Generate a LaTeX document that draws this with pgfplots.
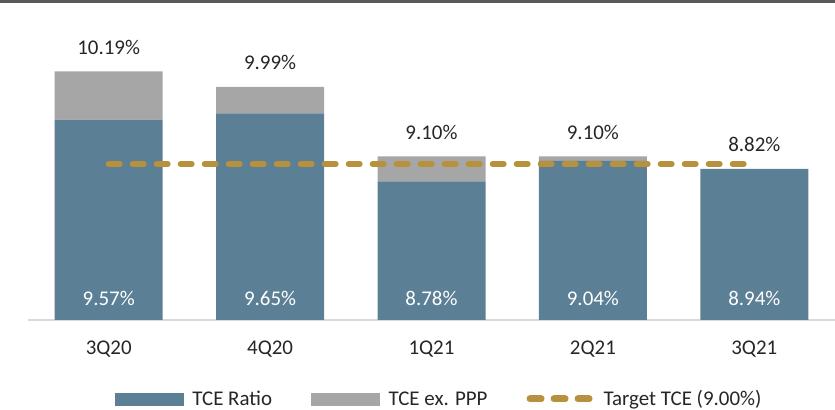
\documentclass[border=0pt]{standalone}
\usepackage{fontspec}
\setmainfont{Carlito}
\usepackage{pgfplots}
\pgfplotsset{compat=1.18}

\definecolor{tceblue}{HTML}{5B7F95}
\definecolor{tcegray}{HTML}{A6A6A6}
\definecolor{tcegold}{HTML}{B8913F}
\definecolor{txt}{HTML}{262626}
\definecolor{baseln}{HTML}{D9D9D9}
\definecolor{topln}{HTML}{595959}

\tikzset{target/.style={tcegold, line width=6bp, line cap=round, dash pattern=on 11bp off 13bp}}

\pgfplotsset{
  frame/.style={
    scale only axis, width=807bp, height=318bp,
    at={(28bp,90bp)}, anchor=south west,
    xmin=-0.5, xmax=4.5, ymin=7.0, ymax=11.08,
    font=\fontsize{21}{25}\selectfont,
  },
}

\begin{document}
\begin{tikzpicture}
\useasboundingbox (0,0) rectangle (835bp,410bp);

% bars
\begin{axis}[frame,
    ybar stacked, bar width=108bp,
    axis x line*=bottom, hide y axis,
    x axis line style={draw=baseln, line width=2bp, -},
    xtick={0,...,4}, xticklabels={3Q20,4Q20,1Q21,2Q21,3Q21},
    major tick length=0pt,
    xticklabel style={anchor=base, yshift=-35bp, text=txt},
  ]
  \addplot[fill=tceblue, draw=none]
    coordinates {(0,9.57) (1,9.65) (2,8.78) (3,9.04) (4,8.94)};
  \addplot[fill=tcegray, draw=none]
    coordinates {(0,0.62) (1,0.34) (2,0.32) (3,0.06) (4,0)};
\end{axis}

% target line, labels, legend
\begin{axis}[frame, hide axis, clip=false,
    legend style={at={(0.1078,-0.2484)}, anchor=west, draw=none, fill=none,
      inner sep=0pt, outer sep=0pt, nodes={inner sep=0pt, text=txt},
      legend columns=3,
      /tikz/every odd column/.append style={column sep=9bp},
      /tikz/every even column/.append style={column sep=39bp}},
  ]
  \addlegendimage{legend image code/.code={\fill[tceblue] (0bp,-6bp) rectangle (68bp,6bp);}}
  \addlegendimage{legend image code/.code={\fill[tcegray] (0bp,-6bp) rectangle (68bp,6bp);}}
  \addplot[target, mark=none,
           legend image code/.code={\path[draw=none] (0bp,-6bp) rectangle (68bp,6bp);
                                    \draw[target, line width=7bp] (3.5bp,0bp) -- (62.5bp,0bp);}]
    coordinates {(0,9.0) (3.95,9.0)};
  % totals above the bars
  \addplot[draw=none, mark=none, forget plot,
           nodes near coords, point meta=explicit symbolic,
           nodes near coords style={anchor=base, inner sep=0pt, yshift=17bp, text=txt}]
    coordinates {(0,10.19)[10.19\%] (1,9.99)[9.99\%] (2,9.10)[9.10\%]
                 (3,9.10)[9.10\%] (4,8.94)[8.82\%]};
  % TCE ratio inside the bars
  \addplot[draw=none, mark=none, forget plot,
           nodes near coords, point meta=explicit symbolic,
           nodes near coords style={anchor=base, inner sep=0pt, yshift=15bp, text=white}]
    coordinates {(0,7.0)[9.57\%] (1,7.0)[9.65\%] (2,7.0)[8.78\%]
                 (3,7.0)[9.04\%] (4,7.0)[8.94\%]};
  \legend{TCE Ratio, TCE ex. PPP, Target TCE (9.00\%)}
\end{axis}

\draw[topln, line width=3bp] (0bp,408.5bp) -- (835bp,408.5bp);
\end{tikzpicture}
\end{document}
